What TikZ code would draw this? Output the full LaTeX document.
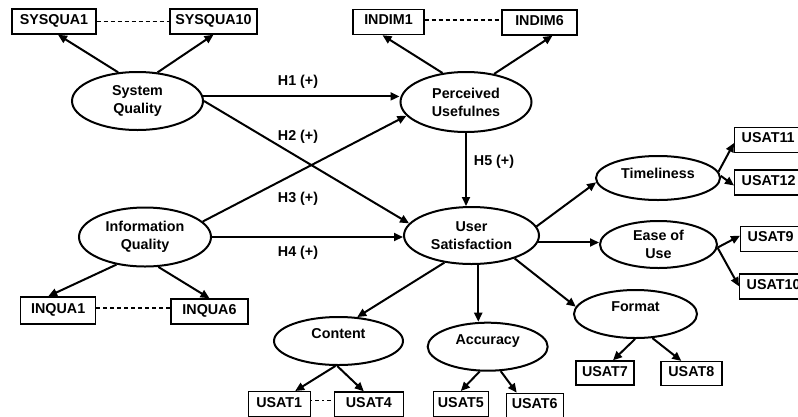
\documentclass[tikz,border=0pt]{standalone}
\usepackage{fontspec}
\setmainfont{Liberation Sans}
\usetikzlibrary{shapes.geometric,arrows.meta,calc}
\begin{document}
\begin{tikzpicture}[x=1pt,y=-1pt,
  every node/.style={font=\fontsize{14.3}{18}\selectfont\bfseries},
  lat/.style={ellipse,draw,line width=2pt,inner sep=0pt,align=center},
  ind/.style={rectangle,draw,line width=1.4pt,inner sep=0pt,minimum height=25pt,text depth=4pt},
  rind/.style={ind,anchor=west,inner xsep=7pt,text width=62pt,align=left},
  arr/.style={line width=2pt,-{Triangle[length=9pt,width=8pt]}},
  lnk/.style={line width=1.4pt,dash pattern=on 4pt off 3pt},
  lnkdd/.style={line width=1.4pt,dash pattern=on 1.5pt off 3pt on 4pt off 3pt}]
\useasboundingbox (0,0) rectangle (798,416);
\fill[white] (0,0) rectangle (798,416);
\clip (0,0) rectangle (798,416);

% latent variables
\node[lat,minimum width=131pt,minimum height=58pt] (sq) at (137.5,101) {System\\Quality};
\node[lat,minimum width=131pt,minimum height=60pt] (pu) at (466,102) {Perceived\\Usefulnes};
\node[lat,minimum width=132pt,minimum height=59pt] (iq) at (145,237) {Information\\Quality};
\node[lat,minimum width=135pt,minimum height=57pt] (us) at (471.5,235.5) {User\\Satisfaction};
\node[lat,minimum width=124pt,minimum height=44pt,text depth=9pt] (tl) at (658,178) {Timeliness};
\node[lat,minimum width=117pt,minimum height=47pt] (eu) at (658.5,244.5) {Ease of\\Use};
\node[lat,minimum width=123pt,minimum height=48pt,text depth=14pt] (fm) at (635.5,314) {Format};
\node[lat,minimum width=120pt,minimum height=48pt,text depth=14pt] (ac) at (487.7,346.7) {Accuracy};
\node[lat,minimum width=129pt,minimum height=48pt,text depth=14pt] (co) at (338.5,341) {Content};

% indicators
\node[ind,minimum width=84pt] (s1) at (54,21.5) {SYSQUA1};
\node[ind,minimum width=87pt] (s10) at (213.5,21.5) {SYSQUA10};
\node[ind,minimum width=71pt] (i1) at (388.5,22) {INDIM1};
\node[ind,minimum width=75pt] (i6) at (539.5,22.5) {INDIM6};
\node[ind,minimum width=75pt,minimum height=27pt] (q1) at (58.2,310.5) {INQUA1};
\node[ind,minimum width=77pt] (q6) at (209.5,311.5) {INQUA6};
\node[ind,minimum width=62pt] (u1) at (279.2,404.2) {USAT1};
\node[ind,minimum width=69pt] (u4) at (368.8,404.5) {USAT4};
\node[ind,minimum width=55pt] (u5) at (460.8,404.2) {USAT5};
\node[ind,minimum width=57pt] (u6) at (534.7,405.8) {USAT6};
\node[ind,minimum width=58pt,minimum height=24pt] (u7) at (605,373) {USAT7};
\node[ind,minimum width=61pt,minimum height=24pt] (u8) at (691.3,373.6) {USAT8};
\node[rind] (u11) at (734,140) {USAT11};
\node[rind] (u12) at (734,182.5) {USAT12};
\node[rind] (u9) at (740,238.7) {USAT9};
\node[rind] (u10) at (739,286.3) {USAT10};

% hypothesis labels
\node (h1) at (298,82) {H1 (+)};
\node (h2) at (298,137) {H2 (+)};
\node (h3) at (298,199) {H3 (+)};
\node (h4) at (298,252.5) {H4 (+)};
\node (h5) at (494,162) {H5 (+)};

% structural paths
\draw[arr] (sq.4) -- (sq.4 -| pu.west);
\draw[arr] (sq.east) -- (us.169);
\draw[arr] (iq.15) -- (pu.193);
\draw[arr] (iq.east) -- (iq.east -| us.west);
\draw[arr] (pu.south) -- (pu.south |- us.north);
\draw[arr] (us.8) -- (tl.184);
\draw[arr] (us.-6) -- (us.-6 -| eu.west);
\draw[arr] (us.-28) -- (fm.173);
\draw[arr] (us.-77) -- (us.-77 |- ac.north);
\draw[arr] (us.225) -- (co.52);

% measurement paths
\draw[arr] (sq.124) -- ($(s1.south)+(4,0)$);
\draw[arr] (sq.55) -- (s10.south);
\draw[arr] (pu.129) -- ($(i1.south)+(-6,0)$);
\draw[arr] (pu.45) -- ($(i6.south)+(13,0)$);
\draw[arr] (iq.224) -- ($(q1.north)+(-10,0)$);
\draw[arr] (iq.-66) -- (q6.north);
\draw[arr] (tl.6) -- ($(u11.west)+(0,3)$);
\draw[arr] (tl.2) -- ($(u12.west)+(0,3)$);
\draw[arr] (eu.-3) -- ($(u9.west)+(0,-3)$);
\draw[arr] (eu.-3) -- (u10.west);
\draw[arr] (fm.-91) -- ($(u7.north)+(8,0)$);
\draw[arr] (fm.-55) -- ($(u8.north)+(-10,0)$);
\draw[arr] (ac.252) -- (u5.north);
\draw[arr] (ac.-62) -- ($(u6.north)+(-18,0)$);
\draw[arr] (co.-97) -- ($(u1.north)+(16,0)$);
\draw[arr] (co.-93) -- ($(u4.north)+(-5,0)$);

% dashed links between indicators
\coordinate (ia) at ($(i1.east)+(0,-2)$);
\coordinate (qa) at ($(q1.east)+(0,-2.5)$);
\coordinate (ua) at ($(u1.east)+(0,-4)$);
\draw[lnk] (s1.east) -- (s10.west);
\draw[lnk] (ia) -- (ia -| i6.west);
\draw[lnk] (qa) -- (qa -| q6.west);
\draw[lnkdd] (ua) -- (ua -| u4.west);
\end{tikzpicture}
\end{document}
